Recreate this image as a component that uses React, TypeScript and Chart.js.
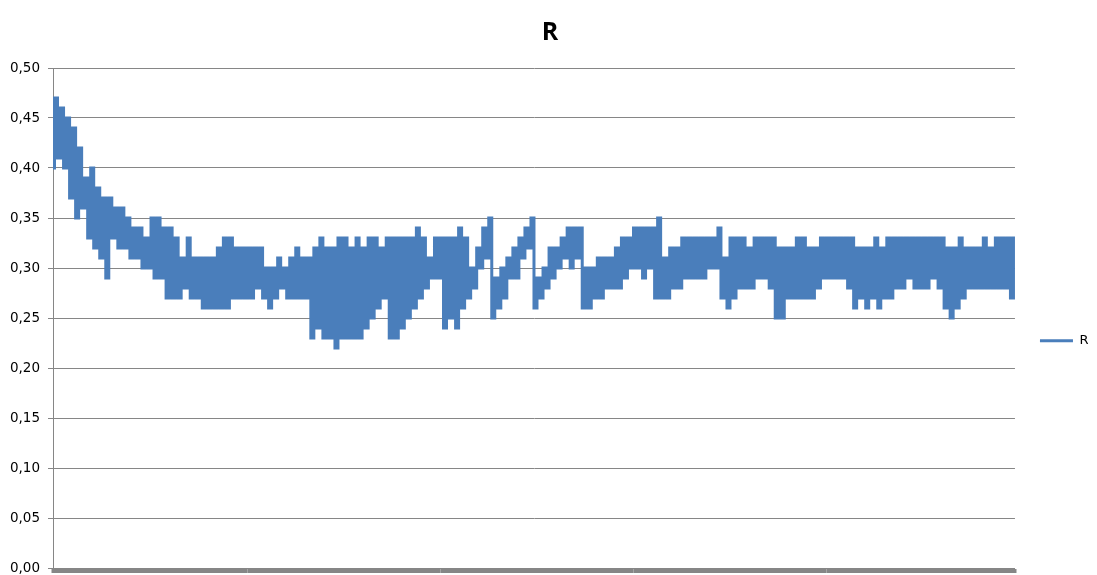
import { useEffect, useRef } from 'react';
import { Chart, registerables } from 'chart.js';

Chart.register(...registerables);

// Upper swing of R for each successive slice of the series
const rHigh = [
  0.47, 0.46, 0.45, 0.44, 0.42, 0.39, 0.40, 0.38, 0.37, 0.37,
  0.36, 0.36, 0.35, 0.34, 0.34, 0.33, 0.35, 0.35, 0.34, 0.34,
  0.33, 0.31, 0.33, 0.31, 0.31, 0.31, 0.31, 0.32, 0.33, 0.33,
  0.32, 0.32, 0.32, 0.32, 0.32, 0.30, 0.30, 0.31, 0.30, 0.31,
  0.32, 0.31, 0.31, 0.32, 0.33, 0.32, 0.32, 0.33, 0.33, 0.32,
  0.33, 0.32, 0.33, 0.33, 0.32, 0.33, 0.33, 0.33, 0.33, 0.33,
  0.34, 0.33, 0.31, 0.33, 0.33, 0.33, 0.33, 0.34, 0.33, 0.30,
  0.32, 0.34, 0.35, 0.29, 0.30, 0.31, 0.32, 0.33, 0.34, 0.35,
  0.29, 0.30, 0.32, 0.32, 0.33, 0.34, 0.34, 0.34, 0.30, 0.30,
  0.31, 0.31, 0.31, 0.32, 0.33, 0.33, 0.34, 0.34, 0.34, 0.34,
  0.35, 0.31, 0.32, 0.32, 0.33, 0.33, 0.33, 0.33, 0.33, 0.33,
  0.34, 0.31, 0.33, 0.33, 0.33, 0.32, 0.33, 0.33, 0.33, 0.33,
  0.32, 0.32, 0.32, 0.33, 0.33, 0.32, 0.32, 0.33, 0.33, 0.33,
  0.33, 0.33, 0.33, 0.32, 0.32, 0.32, 0.33, 0.32, 0.33, 0.33,
  0.33, 0.33, 0.33, 0.33, 0.33, 0.33, 0.33, 0.33, 0.32, 0.32,
  0.33, 0.32, 0.32, 0.32, 0.33, 0.32, 0.33, 0.33, 0.33, 0.33,
];

// Lower swing of R for the same slices
const rLow = [
  0.40, 0.41, 0.40, 0.37, 0.35, 0.36, 0.33, 0.32, 0.31, 0.29,
  0.33, 0.32, 0.32, 0.31, 0.31, 0.30, 0.30, 0.29, 0.29, 0.27,
  0.27, 0.27, 0.28, 0.27, 0.27, 0.26, 0.26, 0.26, 0.26, 0.26,
  0.27, 0.27, 0.27, 0.27, 0.28, 0.27, 0.26, 0.27, 0.28, 0.27,
  0.27, 0.27, 0.27, 0.23, 0.24, 0.23, 0.23, 0.22, 0.23, 0.23,
  0.23, 0.23, 0.24, 0.25, 0.26, 0.27, 0.23, 0.23, 0.24, 0.25,
  0.26, 0.27, 0.28, 0.29, 0.29, 0.24, 0.25, 0.24, 0.26, 0.27,
  0.28, 0.30, 0.31, 0.25, 0.26, 0.27, 0.29, 0.29, 0.31, 0.32,
  0.26, 0.27, 0.28, 0.29, 0.30, 0.31, 0.30, 0.31, 0.26, 0.26,
  0.27, 0.27, 0.28, 0.28, 0.28, 0.29, 0.30, 0.30, 0.29, 0.30,
  0.27, 0.27, 0.27, 0.28, 0.28, 0.29, 0.29, 0.29, 0.29, 0.30,
  0.30, 0.27, 0.26, 0.27, 0.28, 0.28, 0.28, 0.29, 0.29, 0.28,
  0.25, 0.25, 0.27, 0.27, 0.27, 0.27, 0.27, 0.28, 0.29, 0.29,
  0.29, 0.29, 0.28, 0.26, 0.27, 0.26, 0.27, 0.26, 0.27, 0.27,
  0.28, 0.28, 0.29, 0.28, 0.28, 0.28, 0.29, 0.28, 0.26, 0.25,
  0.26, 0.27, 0.28, 0.28, 0.28, 0.28, 0.28, 0.28, 0.28, 0.27,
];

const seriesName = 'R';
const chartTitle = 'R';
const yMin = 0;
const yMax = 0.5;
const yStep = 0.05;

const axisGray = '#868686';
const lineBlue = '#4a7ebb';

export default function App() {
  const ref = useRef<HTMLCanvasElement>(null);

  useEffect(() => {
    const values: number[] = [];
    rLow.forEach((lo, i) => {
      values.push(lo, rHigh[i]);
    });
    const labels = values.map((_, i) => String(i + 1));

    const chart = new Chart(ref.current as HTMLCanvasElement, {
      type: 'line',
      data: {
        labels,
        datasets: [
          {
            label: seriesName,
            data: values,
            borderColor: lineBlue,
            backgroundColor: lineBlue,
            borderWidth: 3,
            pointRadius: 0,
            stepped: 'middle',
            fill: false,
          },
        ],
      },
      options: {
        animation: false,
        responsive: false,
        events: [],
        layout: { padding: { left: 1.5, right: -1.5, top: 0, bottom: 2 } },
        plugins: {
          title: {
            display: true,
            text: chartTitle,
            color: '#000',
            font: { family: 'Open Sans', size: 25, weight: 'bold' },
            padding: { top: 18, bottom: 20 },
          },
          legend: {
            position: 'right',
            title: { display: true, text: ' ', padding: { top: 94, bottom: 0 } },
            labels: {
              usePointStyle: true,
              pointStyle: 'line',
              pointStyleWidth: 33,
              padding: 25,
              color: '#000',
              font: { family: 'DejaVu Sans', size: 13 },
            },
          },
          tooltip: { enabled: false },
        },
        scales: {
          x: {
            type: 'category',
            ticks: { display: false },
            grid: {
              display: true,
              drawOnChartArea: false,
              drawTicks: true,
              tickLength: 5,
              tickWidth: 4,
              tickColor: axisGray,
              color: axisGray,
            },
            border: { display: true, color: axisGray, width: 1 },
            afterFit: (s: any) => {
              s.height = 5;
            },
          },
          y: {
            min: yMin,
            max: yMax,
            ticks: {
              stepSize: yStep,
              color: '#000',
              padding: 8,
              font: { family: 'DejaVu Sans', size: 13.5 },
              callback: (v: any) => Number(v).toFixed(2).replace('.', ','),
            },
            grid: {
              color: axisGray,
              lineWidth: 1,
              tickLength: 5,
              tickColor: axisGray,
            },
            border: { display: true, color: axisGray, width: 1 },
            afterFit: (s: any) => {
              s.width = 51.5;
              s.paddingTop = 0;
              s.paddingBottom = 0;
            },
          },
        },
      },
    });
    return () => chart.destroy();
  }, []);

  return (
    <div style={{ position: 'absolute', left: 0, top: 0, width: 1097, height: 575, background: '#fff' }}>
      <canvas ref={ref} width={1097} height={575} style={{ display: 'block' }} />
    </div>
  );
}
